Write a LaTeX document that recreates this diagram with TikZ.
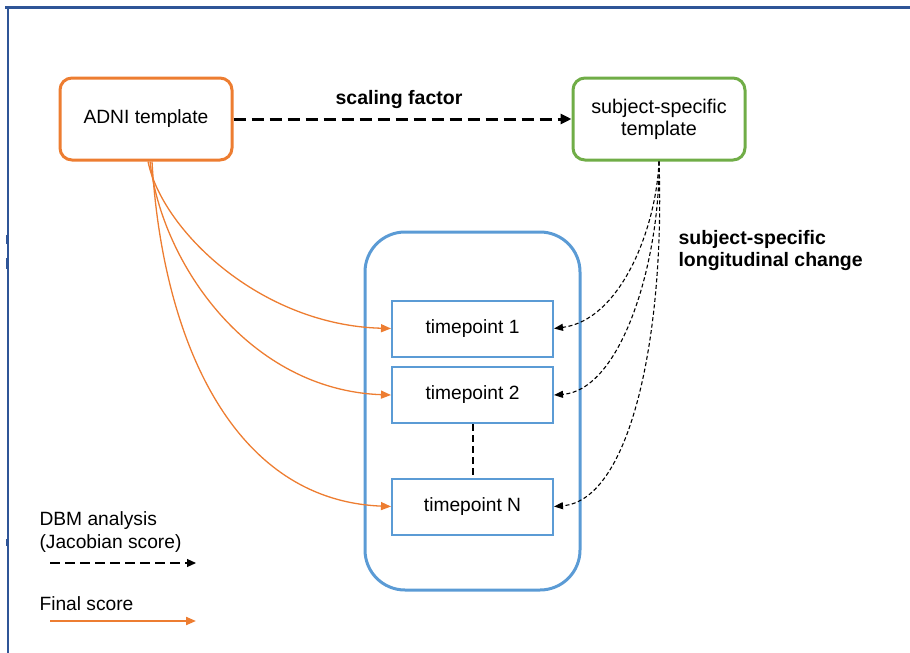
\documentclass[tikz,border=0pt]{standalone}
\usepackage{fontspec}
\setmainfont{Liberation Sans}
\usetikzlibrary{arrows.meta,calc}
\definecolor{frameblue}{HTML}{2F5597}
\definecolor{oorange}{HTML}{ED7D31}
\definecolor{ggreen}{HTML}{70AD47}
\definecolor{bblue}{HTML}{5B9BD5}
\tikzset{
  txt/.style={font=\fontsize{19.2}{22}\selectfont, text=black},
  btxt/.style={font=\fontsize{19.5}{22}\selectfont\bfseries, text=black},
  topbox/.style={draw, line width=3pt, rounded corners=12pt, minimum width=172pt, minimum height=82pt, inner sep=0pt, align=center, txt},
  tpbox/.style={draw=bblue, line width=2pt, minimum width=161pt, minimum height=56pt, inner sep=0pt, txt},
  orangearrow/.style={draw=oorange, line width=1.3pt, -{Triangle[length=10pt,width=8pt]}, oorange},
  blackdash/.style={draw=black, line width=1.1pt, dash pattern=on 4pt off 2.5pt, -{Triangle[length=9pt,width=7pt]}},
}
\begin{document}
\begin{tikzpicture}[x=1pt,y=-1pt]
\useasboundingbox (0,0) rectangle (910,653);
% frame
\draw[frameblue, line width=3pt] (5,7) -- (910,7);
\draw[frameblue, line width=2.5pt] (8,7) -- (8,653);
\draw[frameblue, line width=2pt] (6.5,235) -- (6.5,244);
\draw[frameblue, line width=2pt] (6.5,258) -- (6.5,269);
\draw[frameblue, line width=1.5pt] (6.8,539) -- (6.8,546);

% boxes
\node[topbox, draw=oorange] (adni) at (146,119) {ADNI template};
\node[topbox, draw=ggreen, font=\fontsize{19.8}{22}\selectfont] (subj) at (659,119) {subject-specific\\template};
\node[draw=bblue, line width=3pt, rounded corners=40pt, minimum width=215pt, minimum height=358pt, inner sep=0pt] (grp) at (472.5,411) {};
\node[tpbox] (tp1) at (472.5,328.5) {timepoint 1};
\node[tpbox] (tp2) at (472.5,395) {timepoint 2};
\node[tpbox] (tpN) at (472.5,506.5) {timepoint N};

% scaling factor
\draw[line width=3pt, dash pattern=on 12pt off 6pt, -{Triangle[length=11pt,width=10pt]}] (adni.east) -- (subj.west);
\node[btxt] (sf) at (399,99) {scaling factor};

% dashed between tp2 and tpN
\draw[line width=2pt, dash pattern=on 7pt off 4pt] (tp2.south) -- (tpN.north);

% orange curves
\draw[orangearrow] ($(adni.south)+(2,0)$) .. controls (162,230) and (260,325) .. (tp1.west);
\draw[orangearrow] ($(adni.south)+(4,0)$) .. controls (162,265) and (250,390) .. (tp2.west);
\draw[orangearrow] ($(adni.south)+(6,0)$) .. controls (162,335) and (230,500) .. (tpN.west);

% black dashed curves
\draw[blackdash] (subj.south) .. controls (656,230) and (620,320) .. (tp1.east);
\draw[blackdash] (subj.south) .. controls (660,260) and (622,390) .. (tp2.east);
\draw[blackdash] (subj.south) .. controls (665,330) and (632,500) .. (tpN.east);

\node[btxt, align=left, anchor=north west] (ssl) at (675,227) {subject-specific\\longitudinal change};

% legend
\node[txt, anchor=base west] (l1) at (36,525) {DBM analysis};
\node[txt, anchor=base west] (l2) at (36,548) {(Jacobian score)};
\coordinate (la) at (50,563);
\coordinate (lb) at (196,563);
\draw[line width=1.2pt, dash pattern=on 10pt off 5pt, -{Triangle[length=9pt,width=8pt]}] (la) -- (lb);
\node[txt, anchor=base west] (l3) at (36,610) {Final score};
\coordinate (lc) at (50,621);
\coordinate (ld) at (196,621);
\draw[orangearrow, line width=2pt] (lc) -- (ld);
\end{tikzpicture}
\end{document}
